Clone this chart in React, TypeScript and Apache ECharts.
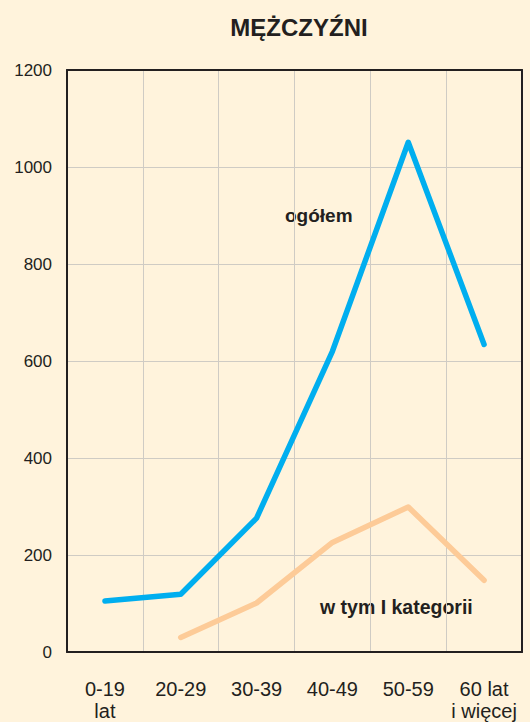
import React, { useEffect, useRef } from "react";
import * as echarts from "echarts";

const categories = ["0-19\nlat", "20-29", "30-39", "40-49", "50-59", "60 lat\ni więcej"];
const ogolem = [105, 119, 276, 620, 1051, 634];
const kategoriaI = [null, 30, 101, 226, 299, 148];
const yTicks = { min: 0, max: 1200, interval: 200 };
const title = "MĘŻCZYŹNI";
const labelOgolem = "ogółem";
const labelKat = "w tym I kategorii";

export default function App() {
  const ref = useRef<HTMLDivElement>(null);
  useEffect(() => {
    if (!ref.current) return;
    const chart = echarts.init(ref.current, null, { renderer: "svg" });
    const font = "'Liberation Sans', Arial, sans-serif";
    const frame = { show: true, onZero: false, lineStyle: { color: "#231F20", width: 2 } };
    const frameX = (position: string) => ({
      type: "category",
      data: categories,
      position,
      axisLine: frame,
      axisTick: { show: false },
      axisLabel: { show: false },
      splitLine: { show: false },
      z: 6,
    });
    const frameY = (position: string) => ({
      type: "value",
      min: yTicks.min,
      max: yTicks.max,
      interval: yTicks.interval,
      position,
      axisLine: frame,
      axisTick: { show: false },
      axisLabel: { show: false },
      splitLine: { show: false },
      z: 6,
    });
    chart.setOption({
      animation: false,
      backgroundColor: "#FFF3DC",
      title: {
        text: title,
        left: 294,
        top: 10,
        textAlign: "center",
        textStyle: { fontFamily: font, fontSize: 24, fontWeight: "bold", color: "#231F20" },
      },
      grid: { left: 67, right: 8, top: 70, bottom: 69 },
      xAxis: [
        {
          type: "category",
          data: categories,
          boundaryGap: true,
          position: "bottom",
          axisLine: { show: false },
          axisTick: { show: false },
          splitLine: { show: true, lineStyle: { color: "#CFCBC4", width: 1 } },
          axisLabel: {
            fontFamily: font,
            fontSize: 20,
            lineHeight: 22,
            color: "#231F20",
            margin: 26,
            interval: 0,
          },
          z: 0,
        },
        frameX("top"),
        frameX("bottom"),
      ],
      yAxis: [
        {
          type: "value",
          min: yTicks.min,
          max: yTicks.max,
          interval: yTicks.interval,
          position: "left",
          axisLine: { show: false },
          axisTick: { show: false },
          splitLine: { show: true, lineStyle: { color: "#CFCBC4", width: 1 } },
          axisLabel: {
            fontFamily: font,
            fontSize: 17,
            color: "#231F20",
            margin: 15,
            formatter: (v: number) => String(v),
          },
          z: 0,
        },
        frameY("right"),
        frameY("left"),
      ],
      graphic: [
        {
          type: "text",
          left: 285,
          top: 206,
          style: { text: labelOgolem, fontFamily: font, fontSize: 19, fontWeight: "bold", fill: "#231F20" },
        },
        {
          type: "text",
          left: 320,
          top: 597,
          style: { text: labelKat, fontFamily: font, fontSize: 19.5, fontWeight: "bold", fill: "#231F20" },
        },
      ],
      series: [
        {
          type: "line",
          data: kategoriaI,
          symbol: "none",
          lineStyle: { color: "#FDCB98", width: 5.5, cap: "round", join: "round" },
          z: 2,
        },
        {
          type: "line",
          data: ogolem,
          symbol: "none",
          lineStyle: { color: "#00AEEF", width: 5.5, cap: "round", join: "round" },
          z: 3,
        },
      ],
    });
    return () => chart.dispose();
  }, []);
  return (
    <div
      ref={ref}
      style={{ position: "absolute", left: 0, top: 0, width: 530, height: 722 }}
    />
  );
}
